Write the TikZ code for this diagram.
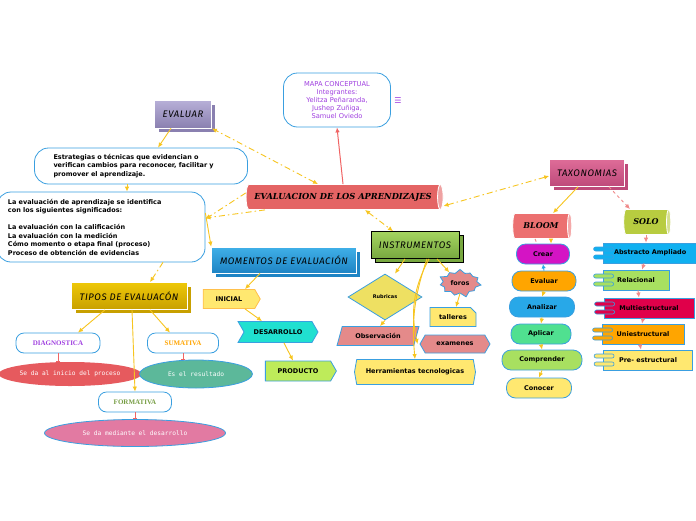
\documentclass[tikz,border=0pt]{standalone}
\usepackage{fontspec}
\setmainfont{DejaVu Sans}
\newfontfamily\handfont{Fira Sans}[LetterSpace=6]
\newfontfamily\titlefont{DejaVu Serif}
\newfontfamily\fancyfont{Liberation Serif}
\newfontfamily\typefont{DejaVu Sans Mono}
\usetikzlibrary{shapes.geometric,shapes.symbols,shapes.misc,shadows,arrows.meta}

\definecolor{linkyellow}{HTML}{F7C520}
\definecolor{linkred}{HTML}{F06464}
\definecolor{linkpink}{HTML}{F08A8A}
\definecolor{edgeblue}{HTML}{3A9FE0}
\definecolor{notepurple}{HTML}{A040E0}
\definecolor{titlered}{HTML}{E46464}
\definecolor{evtop}{HTML}{B8B0D8}
\definecolor{evbot}{HTML}{8A80B0}
\definecolor{motop}{HTML}{40B0E8}
\definecolor{mobot}{HTML}{1E84C4}
\definecolor{titop}{HTML}{EEC808}
\definecolor{tibot}{HTML}{C8A000}
\definecolor{intop}{HTML}{A4D460}
\definecolor{inbot}{HTML}{78A840}
\definecolor{tatop}{HTML}{DE6C98}
\definecolor{tabot}{HTML}{BE4A7A}
\definecolor{bloomred}{HTML}{EC7070}
\definecolor{sologreen}{HTML}{B8CC40}
\definecolor{diagred}{HTML}{E65A5E}
\definecolor{sumteal}{HTML}{5CB89A}
\definecolor{formpink}{HTML}{E27AA2}
\definecolor{softyellow}{HTML}{FFE870}
\definecolor{rubyellow}{HTML}{EEE062}
\definecolor{softpink}{HTML}{E48A8A}
\definecolor{turq}{HTML}{20E0D0}
\definecolor{lime}{HTML}{BEEB5A}
\definecolor{crearmag}{HTML}{D414C4}
\definecolor{evalorange}{HTML}{FFA500}
\definecolor{analblue}{HTML}{28A8E8}
\definecolor{aplgreen}{HTML}{50E090}
\definecolor{compgreen}{HTML}{A8E060}
\definecolor{abscyan}{HTML}{10B0F0}
\definecolor{multired}{HTML}{E0004A}

\tikzset{
  link/.style={draw=linkyellow, line width=0.9pt, -{Latex[length=5pt,width=4.5pt]}},
  dashlink/.style={draw=linkyellow, line width=0.9pt, {Latex[length=5pt,width=4.5pt]}-{Latex[length=5pt,width=4.5pt]}, dash pattern=on 6pt off 3pt on 1.5pt off 3pt},
  redlink/.style={draw=linkred, line width=1pt, -{Latex[length=5pt,width=4.5pt]}},
  pinklink/.style={draw=linkpink, line width=0.9pt, -{Latex[length=5pt,width=4.5pt]}},
  pinkdash/.style={pinklink, dash pattern=on 3pt off 3pt},
  tiplink/.style={draw=linkred, line width=0.8pt, -{Bar[width=4pt]}},
  bold/.style={font=\bfseries\fontsize{6.5}{8.5}\selectfont},
  topic/.style={draw=white, line width=0.7pt, inner sep=0pt,
    font=\handfont\itshape\fontsize{9.5}{10}\selectfont,
    general shadow={shadow xshift=4pt, shadow yshift=-4pt, fill=#1, draw=white}},
  cyl/.style={cylinder, shape border rotate=0, shape aspect=0.7, inner sep=0pt,
    cylinder uses custom fill, cylinder body fill=#1, cylinder end fill=#1!60!white,
    draw=white, line width=0.8pt},
  textbox/.style={rectangle, rounded corners=14pt, draw=edgeblue, line width=0.8pt,
    fill=white, bold, align=left, inner ysep=0pt},
  levelbox/.style={rectangle, rounded corners=8pt, draw=edgeblue, line width=0.8pt,
    fill=white, minimum height=20pt, inner sep=0pt, font=\fancyfont\bfseries\fontsize{7}{8}\selectfont},
  blob/.style={ellipse, inner sep=0pt, text=white, font=\typefont\fontsize{6.2}{7}\selectfont},
  flag/.style={signal, signal pointer angle=120, line width=0.8pt, inner sep=0pt, bold},
  pill/.style={rectangle, rounded corners=9pt, draw=edgeblue, line width=0.8pt,
    minimum height=20pt, inner sep=0pt, bold},
  solobox/.style={rectangle, draw=edgeblue, line width=0.8pt, minimum height=20pt,
    inner sep=0pt, bold},
  tab/.style={draw=edgeblue, line width=0.6pt, rounded corners=2pt}
}

\newcommand{\solotabs}[2]{%
  \draw[tab, fill=#2] ([shift={(-9,-6)}]#1.west) rectangle ([shift={(11,-2)}]#1.west);
  \draw[tab, fill=#2] ([shift={(-9,2)}]#1.west) rectangle ([shift={(11,6)}]#1.west);}

\begin{document}
\begin{tikzpicture}[x=1pt,y=-1pt]
  \clip (0,0) rectangle (696,520);
  \fill[white] (0,0) rectangle (696,520);

  % centre and header
  \node[cyl=titlered, minimum height=197pt, minimum width=25pt,
        font=\titlefont\bfseries\itshape\fontsize{8.3}{9}\selectfont] (eval) at (343,197) {EVALUACION DE LOS APRENDIZAJES};
  \node[rectangle, rounded corners=14pt, draw=edgeblue, line width=0.8pt, align=center,
        text=notepurple, minimum width=107pt, minimum height=54pt, inner sep=0pt,
        font=\fontsize{6.7}{8}\selectfont] (mapa) at (337,100)
        {MAPA CONCEPTUAL\\Integrantes:\\Yelitza Peñaranda,\\Jushep Zuñiga,\\Samuel Oviedo};
  \node[text=notepurple, font=\fontsize{8}{8}\selectfont, inner sep=0pt] (nota) at (398,101) {☰};

  % left branch
  \node[topic=evbot, top color=evtop, bottom color=evbot, minimum width=57pt, minimum height=28pt] (evaluar) at (183,114) {EVALUAR};
  \node[textbox, text width=175pt, inner xsep=19pt, minimum height=36pt] (estrat) at (141,166)
        {Estrategias o técnicas que evidencian o\\verifican cambios para reconocer, facilitar y\\promover el aprendizaje.};
  \node[textbox, text width=186pt, inner xsep=11pt, minimum height=70pt] (signif) at (101,227)
        {La evaluación de aprendizaje se identifica\\con los siguientes significados:\\[8.5pt]La evaluación con la calificación\\La evaluación con la medición\\Cómo momento o etapa final (proceso)\\Proceso de obtención de evidencias};

  \node[topic=mobot, top color=motop, bottom color=mobot, minimum width=145pt, minimum height=26pt] (momentos) at (284,260) {MOMENTOS DE EVALUACIÓN};
  \node[topic=tibot, top color=titop, bottom color=tibot, minimum width=116pt, minimum height=27pt] (tipos) at (129,296) {TIPOS DE EVALUACÓN};

  \node[levelbox, minimum width=84pt, text=notepurple] (diag) at (58,343) {DIAGNOSTICA};
  \node[blob, fill=diagred, minimum width=140pt, minimum height=24pt] (inicio) at (70,374) {Se da al inicio del proceso};
  \node[levelbox, minimum width=71pt, text=evalorange] (sum) at (183,343) {SUMATIVA};
  \node[blob, fill=sumteal, draw=edgeblue, line width=0.8pt, minimum width=113pt, minimum height=28pt] (result) at (196,374) {Es el resultado};
  \node[levelbox, minimum width=73pt, text=compgreen!70!black] (form) at (135,402) {FORMATIVA};
  \node[blob, fill=formpink, draw=edgeblue, line width=0.8pt, minimum width=181pt, minimum height=27pt] (desarr) at (135,433) {Se da mediante el desarrollo};

  \node[flag, signal from=east, fill=softyellow, draw=evalorange!70, minimum width=57pt, minimum height=19pt] (inicial) at (229,299) {INICIAL};
  \node[flag, signal from=west, fill=turq, draw=edgeblue, minimum width=80pt, minimum height=21pt] (desarrollo) at (278,332) {DESARROLLO};
  \node[flag, signal from=east, fill=lime, draw=edgeblue, minimum width=71pt, minimum height=20pt] (producto) at (298,371) {PRODUCTO};

  % instruments
  \node[topic=inbot, top color=intop, bottom color=inbot, draw=black, minimum width=88pt, minimum height=27pt,
        general shadow={shadow xshift=4pt, shadow yshift=-4pt, fill=inbot, draw=black}] (instr) at (415,245) {INSTRUMENTOS};
  \node[diamond, fill=rubyellow, draw=edgeblue, line width=0.8pt, minimum width=74pt, minimum height=46pt,
        inner sep=0pt, font=\bfseries\fontsize{5}{6}\selectfont] (rubricas) at (385,297) {Rubricas};
  \node[trapezium, trapezium left angle=58, trapezium right angle=122, trapezium stretches=true,
        fill=softpink, draw=edgeblue, line width=0.8pt, minimum width=82pt, minimum height=19pt, inner sep=0pt, bold] (observ) at (378,336) {Observación};
  \node[starburst, starburst points=11, starburst point height=5pt,
        fill=softpink, draw=edgeblue, line width=0.8pt, minimum width=44pt, minimum height=30pt, inner sep=0pt, bold] (foros) at (460,283) {foros};
  \node[chamfered rectangle, chamfered rectangle corners=north east, chamfered rectangle xsep=3pt, chamfered rectangle ysep=3pt,
        fill=softyellow, draw=edgeblue, line width=0.8pt, minimum width=46pt, minimum height=19pt, inner sep=0pt, bold] (talleres) at (453,317) {talleres};
  \node[signal, signal to=west and east, signal pointer angle=120, fill=softpink, draw=edgeblue, line width=0.8pt,
        minimum width=70pt, minimum height=18pt, inner sep=0pt, bold] (examenes) at (455,344) {examenes};
  \node[signal, signal to=west and east, signal pointer angle=160, fill=softyellow, draw=edgeblue, line width=0.8pt,
        minimum width=121pt, minimum height=25pt, inner sep=0pt, bold] (herram) at (415,372) {Herramientas tecnologicas};

  % taxonomies
  \node[topic=tabot, top color=tatop, bottom color=tabot, minimum width=75pt, minimum height=27pt] (taxon) at (587,173) {TAXONOMIAS};
  \node[cyl=bloomred, minimum height=59pt, minimum width=25pt,
        font=\titlefont\bfseries\itshape\fontsize{8}{9}\selectfont] (bloom) at (541,226) {BLOOM};
  \node[cyl=sologreen, minimum height=47pt, minimum width=25pt,
        font=\titlefont\bfseries\itshape\fontsize{8}{9}\selectfont] (solo) at (646,222) {SOLO};

  \node[pill, fill=crearmag, minimum width=53pt] (crear) at (543,254) {Crear};
  \node[pill, fill=evalorange, minimum width=64pt] (evaluarb) at (544,281) {Evaluar};
  \node[pill, fill=analblue, minimum width=65pt] (analizar) at (542,307) {Analizar};
  \node[pill, fill=aplgreen, minimum width=60pt] (aplicar) at (541,334) {Aplicar};
  \node[pill, fill=compgreen, minimum width=80pt] (comprender) at (542,360) {Comprender};
  \node[pill, fill=softyellow, minimum width=65pt] (conocer) at (539,388) {Conocer};

  \node[solobox, fill=abscyan, minimum width=118pt, text width=96pt, align=left] (abstracto) at (662,253) {Abstracto Ampliado};
  \node[solobox, fill=compgreen, minimum width=66pt] (relacional) at (636,280) {Relacional};
  \node[solobox, fill=multired, minimum width=90pt] (multi) at (649,308) {Multiestructural};
  \node[solobox, fill=evalorange, minimum width=82pt] (uni) at (643,334) {Uniestructural};
  \node[solobox, fill=softyellow, minimum width=89pt] (pre) at (648,360) {Pre- estructural};
  \solotabs{abstracto}{abscyan}
  \solotabs{relacional}{compgreen}
  \solotabs{multi}{multired}
  \solotabs{uni}{evalorange}
  \solotabs{pre}{softyellow}

  % connectors
  \draw[redlink] (eval.north) -- (mapa.south);
  \draw[dashlink] ([xshift=-25]eval.north) -- (evaluar.south east);
  \draw[link] ([xshift=-12]evaluar.south) -- ([xshift=17]estrat.north);
  \draw[link] ([xshift=-14]estrat.south) -- ([xshift=26]signif.north);
  \draw[dashlink, -{Latex[length=5pt,width=4.5pt]}] ([yshift=4]eval.west) -- ([yshift=8]signif.east);
  \draw[dashlink, -{Latex[length=5pt,width=4.5pt]}] ([xshift=-78]eval.south) -- ([yshift=9]signif.east);
  \draw[link] ([yshift=14]signif.east) -- (momentos.north west);
  \draw[dashlink, -{Latex[length=5pt,width=4.5pt]}] ([xshift=62]signif.south) -- ([xshift=21]tipos.north);
  \draw[link] ([xshift=-24]tipos.south) -- ([xshift=20]diag.north);
  \draw[link] ([xshift=21]tipos.south) -- ([xshift=-13]sum.north);
  \draw[link] ([xshift=3]tipos.south) -- (form.north);
  \draw[tiplink] (diag.south) -- (diag.south |- inicio.north);
  \draw[tiplink] (sum.south) -- (sum.south |- result.north);
  \draw[tiplink] (form.south) -- (form.south |- desarr.north);
  \draw[link] ([xshift=-24]momentos.south) -- ([xshift=16]inicial.north);
  \draw[link] ([xshift=16]inicial.south) -- ([xshift=-16]desarrollo.north);
  \draw[link] ([xshift=6]desarrollo.south) -- ([xshift=-5]producto.north);
  \draw[dashlink] ([xshift=22]eval.south) -- ([xshift=-22]instr.north);
  \draw[link] ([xshift=-10]instr.south) -- ([xshift=10]rubricas.north);
  \draw[link] (rubricas.south) -- ([xshift=2]observ.north);
  \draw[link] ([xshift=22]instr.south) -- (foros.north west);
  \draw[link] (foros.south) -- ([xshift=3]talleres.north);
  \draw[link] ([xshift=12]instr.south) to[bend right=12] (herram.north);
  \draw[link] ([xshift=14]instr.south) to[bend right=20] ([xshift=-2]examenes.west);
  \draw[dashlink] ([yshift=-9]eval.east) -- ([yshift=-3]taxon.west);
  \draw[link] ([xshift=-9]taxon.south) -- ([xshift=12]bloom.north);
  \draw[pinkdash] ([xshift=22]taxon.south) -- ([xshift=-16]solo.north);
  \draw[link] ([xshift=10]bloom.south) -- ([xshift=8]crear.north);
  \draw[pinkdash, -] ([xshift=-6]bloom.south) -- ([xshift=-6]crear.north);
  \draw[draw=analblue, line width=0.9pt, -{Latex[length=4pt,width=4.5pt]}] (evaluarb.north) -- (crear.south);
  \draw[link] (evaluarb.south) -- (analizar.north);
  \draw[link] (analizar.south) -- (aplicar.north);
  \draw[link] (aplicar.south) -- (comprender.north);
  \draw[link] (comprender.south) -- (conocer.north);
  \draw[pinklink] (solo.south) -- (solo.south |- abstracto.north);
  \draw[pinklink] ([xshift=-18]abstracto.south) -- ([xshift=6]relacional.north);
  \draw[pinklink] ([xshift=2]relacional.south) -- ([xshift=-10]multi.north);
  \draw[pinklink] ([xshift=-6]multi.south) -- ([xshift=-1]uni.north);
  \draw[pinklink] ([xshift=-3]uni.south) -- ([xshift=-7]pre.north);
\end{tikzpicture}
\end{document}
